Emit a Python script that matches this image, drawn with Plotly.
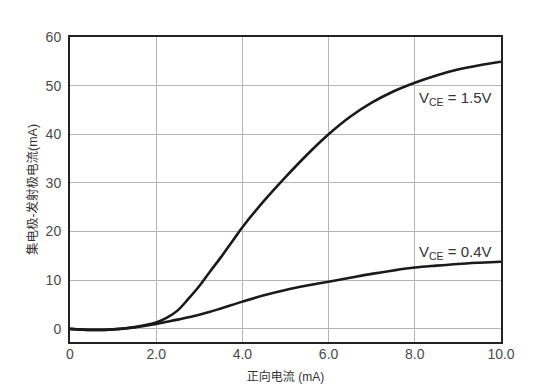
import plotly.graph_objects as go

x_vals = [0, 0.5, 1.0, 1.5, 2.0, 2.25, 2.5, 2.75, 3.0, 3.25, 3.5, 3.75, 4.0, 4.5, 5.0,
          5.5, 6.0, 6.5, 7.0, 7.5, 8.0, 8.5, 9.0, 9.5, 10.0]
ic_vce_15 = [0, -0.2, -0.1, 0.4, 1.3, 2.3, 3.8, 6.2, 8.8, 11.8, 14.7, 17.8, 20.9, 26.3, 31.2,
             35.8, 40.0, 43.6, 46.5, 48.8, 50.6, 52.1, 53.3, 54.2, 54.9]
ic_vce_04 = [0, -0.2, -0.1, 0.3, 1.0, 1.45, 1.9, 2.4, 2.9, 3.5, 4.2, 4.9, 5.6, 6.9, 8.0,
             8.9, 9.7, 10.5, 11.3, 12.0, 12.6, 13.0, 13.35, 13.6, 13.8]

x_ticks = [0, 2, 4, 6, 8, 10]
x_ticktext = ["0", "2.0", "4.0", "6.0", "8.0", "10.0"]
y_ticks = [0, 10, 20, 30, 40, 50, 60]

labels = ["V<sub>CE</sub> = 1.5V", "V<sub>CE</sub> = 0.4V"]
x_title = "正向电流 (mA)"
y_title = "集电极-发射极电流(mA)"

FONT = "Liberation Sans, Arial, Noto Sans CJK SC, sans-serif"

fig = go.Figure()
for ys in (ic_vce_15, ic_vce_04):
    fig.add_trace(go.Scatter(x=x_vals, y=ys, mode="lines",
                             line=dict(color="#1a1a1a", width=2.6, shape="spline", smoothing=1.0),
                             showlegend=False, hoverinfo="skip"))

fig.add_annotation(x=8.05, y=47.4, text=labels[0], showarrow=False, xanchor="left", yanchor="middle",
                   font=dict(size=15, color="#333333", family=FONT))
fig.add_annotation(x=8.05, y=15.8, text=labels[1], showarrow=False, xanchor="left", yanchor="middle",
                   font=dict(size=15, color="#333333", family=FONT))

# page body has an 8px default margin, so the figure is sized to fit the window
fig.update_layout(
    width=546, height=381,
    margin=dict(l=62, r=53, t=29, b=47),
    paper_bgcolor="white", plot_bgcolor="white",
    font=dict(family=FONT, size=14, color="#4a4a4a"),
)
fig.update_xaxes(range=[0, 10], tickvals=x_ticks, ticktext=x_ticktext, automargin=False,
                 showgrid=True, gridcolor="#b5b5b5", gridwidth=1,
                 showline=True, linecolor="#222222", linewidth=2, mirror=True,
                 zeroline=False, ticks="", ticklabelstandoff=-2,
                 title=dict(text=x_title, font=dict(size=12, color="#333333"), standoff=12))
fig.update_yaxes(range=[-2.7, 60], tickvals=y_ticks, automargin=False,
                 showgrid=True, gridcolor="#b5b5b5", gridwidth=1,
                 showline=True, linecolor="#222222", linewidth=2, mirror=True,
                 zeroline=False, ticks="", ticklabelstandoff=4,
                 title=dict(text=y_title, font=dict(size=12.5, color="#333333"), standoff=5))

fig.write_html("out.html")
